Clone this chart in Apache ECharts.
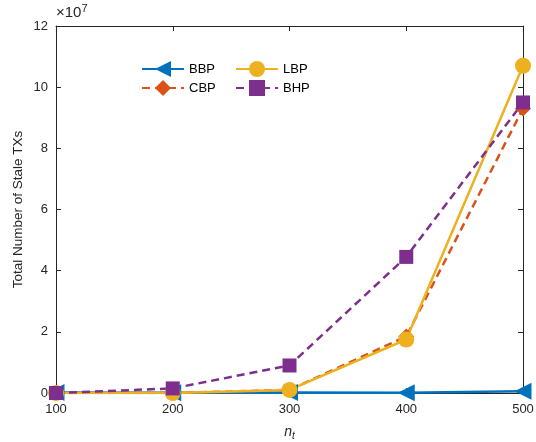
<!DOCTYPE html>
<html><head><meta charset="utf-8">
<script src="https://cdn.jsdelivr.net/npm/echarts@6/dist/echarts.min.js"></script>
<style>html,body{margin:0;padding:0;background:#fff}#c{width:536px;height:442px}</style>
</head><body><div id="c"></div>
<script>
const categories = [100, 200, 300, 400, 500];
const BBP = [0.02, 0.01, 0.02, 0.01, 0.06];
const CBP = [0.0, 0.0, 0.1, 1.85, 9.3];
const LBP = [0.0, 0.0, 0.1, 1.75, 10.7];
const BHP = [0.0, 0.15, 0.9, 4.45, 9.5];
const yTicks = [0, 2, 4, 6, 8, 10, 12];

const FONT = 'Liberation Sans, Arial, sans-serif';
const axisCol = '#262626';
const chart = echarts.init(document.getElementById('c'));
const pts = a => a.map((v, i) => [categories[i], v]);

function mk(name, data, color, symbol, size, dashed, rot) {
  return {
    name, type: 'line', data: pts(data), symbol, symbolSize: size, symbolRotate: rot || 0,
    lineStyle: { color, width: 2.5, type: dashed ? [8, 5] : 'solid' },
    itemStyle: { color, borderWidth: 0 },
    emphasis: { disabled: true }, animation: false
  };
}

const baseX = {
  type: 'value', min: 100, max: 500, interval: 100,
  axisLine: { show: true, onZero: false, lineStyle: { color: axisCol, width: 1 } },
  axisTick: { show: true, inside: true, length: 5, lineStyle: { color: axisCol } },
  splitLine: { show: false }
};
const baseY = {
  type: 'value', min: 0, max: 12, interval: 2,
  axisLine: { show: true, onZero: false, lineStyle: { color: axisCol, width: 1 } },
  axisTick: { show: true, inside: true, length: 5, lineStyle: { color: axisCol } },
  splitLine: { show: false }
};

const legText = { fontSize: 13, color: '#000', fontFamily: FONT };

chart.setOption({
  backgroundColor: '#fff',
  textStyle: { fontFamily: FONT },
  grid: { left: 56, right: 13, top: 26, bottom: 49, containLabel: false, outerBoundsMode: 'none' },
  xAxis: [
    Object.assign({}, baseX, {
      position: 'bottom',
      axisLabel: { color: axisCol, fontSize: 13, margin: 10, fontFamily: FONT },
      name: '{i|n}{s|t}', nameLocation: 'middle', nameGap: 30, nameMoveOverlap: false,
      nameTextStyle: { rich: {
        i: { fontStyle: 'italic', fontSize: 14, color: axisCol, fontFamily: FONT },
        s: { fontStyle: 'italic', fontSize: 10, color: axisCol, fontFamily: FONT, padding: [8, 0, 0, 0] }
      } }
    }),
    Object.assign({}, baseX, { position: 'top', axisLabel: { show: false } })
  ],
  yAxis: [
    Object.assign({}, baseY, {
      position: 'left',
      axisLabel: { color: axisCol, fontSize: 13, margin: 8, fontFamily: FONT,
        formatter: v => yTicks.includes(v) ? String(v) : '' },
      name: 'Total Number of Stale TXs', nameLocation: 'middle', nameGap: 31, nameRotate: 90,
      nameMoveOverlap: false,
      nameTextStyle: { color: axisCol, fontSize: 13.5, fontFamily: FONT }
    }),
    Object.assign({}, baseY, { position: 'right', axisLabel: { show: false } })
  ],
  legend: [
    { data: ['BBP', 'CBP'], orient: 'vertical', left: 141, top: 61, itemWidth: 42, itemHeight: 20, itemGap: 3,
      textStyle: legText, backgroundColor: 'transparent', selectedMode: false, padding: 0 },
    { data: ['LBP', 'BHP'], orient: 'vertical', left: 235, top: 61, itemWidth: 42, itemHeight: 20, itemGap: 3,
      textStyle: legText, backgroundColor: 'transparent', selectedMode: false, padding: 0 }
  ],
  graphic: [{
    type: 'text', left: 56, top: 3,
    style: { text: '{a|×10}{b|7}', rich: {
      a: { fontSize: 15, fill: axisCol, fontFamily: FONT },
      b: { fontSize: 11, fill: axisCol, fontFamily: FONT, padding: [0, 0, 9, 0] }
    } }
  }],
  series: [
    mk('BBP', BBP, '#0072BD', 'triangle', 17, false, 90),
    mk('CBP', CBP, '#D95319', 'diamond', 16, true),
    mk('LBP', LBP, '#EDB120', 'circle', 16, false),
    mk('BHP', BHP, '#7E2F8E', 'rect', 14, true)
  ]
});
</script></body></html>
